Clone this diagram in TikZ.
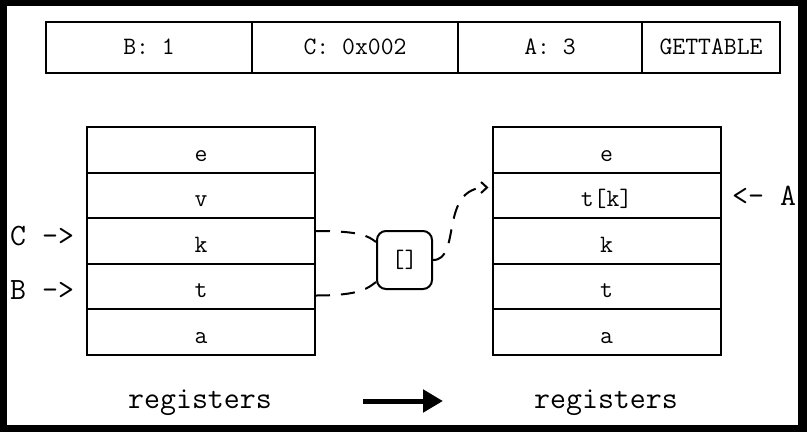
\documentclass[tikz,border=0pt]{standalone}
\usepackage{fontspec}
\setmainfont{Latin Modern Mono}
\usetikzlibrary{arrows.meta}
\begin{document}
\begin{tikzpicture}[x=1pt,y=-1pt,
  instr/.style={draw, line width=2pt, minimum height=51pt, inner sep=0pt, font=\fontsize{25pt}{30pt}\selectfont, text height=13pt, text depth=0pt},
  cell/.style={draw, line width=2pt, minimum width=228pt, minimum height=45.5pt, inner sep=0pt, font=\fontsize{25pt}{30pt}\selectfont, text height=22pt, text depth=0pt},
  lbl/.style={anchor=base west, inner sep=0pt, font=\fontsize{31pt}{36pt}\selectfont},
  link/.style={line width=2pt, dash pattern=on 14pt off 11pt}]
\fill [black] (0,0) rectangle (807,432);
\fill [white] (7,6) rectangle (798,425);
\node [instr, minimum width=206pt] (ib) at (149,47.5) {B: 1};
\node [instr, minimum width=206pt] (ic) at (355,47.5) {C: 0x002};
\node [instr, minimum width=184pt] (ia) at (550,47.5) {A: 3};
\node [instr, minimum width=138pt] (iop) at (711,47.5) {GETTABLE};
\node [cell] (le) at (201,150) {e};
\node [cell] (lv) at (201,195.5) {v};
\node [cell] (lk) at (201,241) {k};
\node [cell] (lt) at (201,286.5) {t};
\node [cell] (la) at (201,332) {a};
\node [cell] (re) at (606.5,150) {e};
\node [cell] (rtk) at (606.5,195.5) {t[k]};
\node [cell] (rk) at (606.5,241) {k};
\node [cell] (rt) at (606.5,286.5) {t};
\node [cell] (ra) at (606.5,332) {a};
\node [lbl] (cptr) at (10,245) {C ->};
\node [lbl] (bptr) at (10,299) {B ->};
\node [lbl] (aptr) at (732,205) {<- A};
\node [draw, line width=2pt, rounded corners=9pt, minimum width=55pt, minimum height=58pt, inner sep=0pt, font=\fontsize{25pt}{30pt}\selectfont] (idx) at (404.5,260) {[]};
\draw [link] ([yshift=10pt]lk.east) .. controls +(45,0) and +(-8,-6) .. ([yshift=18pt]idx.west);
\draw [link] ([yshift=-9pt]lt.east) .. controls +(45,0) and +(-8,6) .. ([yshift=-22pt]idx.west);
\draw [link, -{Straight Barb[length=6pt,width=11pt]}] (idx.east) .. controls +(29,0) and +(-50,0) .. ([xshift=-3pt,yshift=8pt]rtk.west);
\node [lbl, anchor=base] (lcap) at (200,408) {registers};
\node [lbl, anchor=base] (rcap) at (606,408) {registers};
\coordinate (arrs) at (363,401);
\coordinate (arre) at (443,401);
\draw [line width=5pt, -{Triangle[length=20pt,width=22pt]}] (arrs) -- (arre);
\end{tikzpicture}
\end{document}
